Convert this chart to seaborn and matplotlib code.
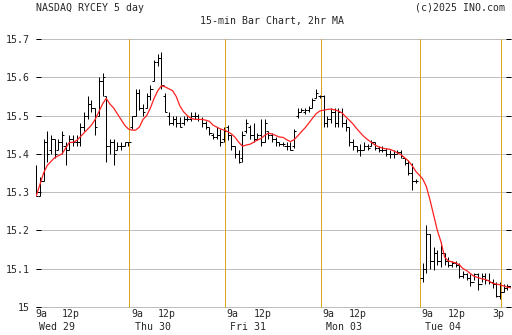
import numpy as np
import pandas as pd
import matplotlib
matplotlib.use("Agg")
import matplotlib.pyplot as plt
import seaborn as sns

# 15-min OHLC bars, 26 per session
days = ["Wed 29", "Thu 30", "Fri 31", "Mon 03", "Tue 04"]
bars_per_day = 26

bar_high = [
    15.37, 15.34, 15.44, 15.46, 15.45, 15.44, 15.44, 15.46, 15.43, 15.45, 15.45, 15.45, 15.48, 15.51, 15.55, 15.54, 15.52, 15.60, 15.61, 15.55, 15.44, 15.44, 15.43, 15.43, 15.43, 15.43,
    15.50, 15.57, 15.57, 15.53, 15.56, 15.58, 15.645, 15.66, 15.665, 15.56, 15.51, 15.50, 15.50, 15.495, 15.50, 15.50, 15.51, 15.51, 15.505, 15.495, 15.485, 15.47, 15.455, 15.47, 15.465, 15.47,
    15.475, 15.45, 15.42, 15.41, 15.46, 15.49, 15.475, 15.48, 15.455, 15.49, 15.49, 15.46, 15.455, 15.445, 15.43, 15.43, 15.43, 15.43, 15.465, 15.52, 15.52, 15.52, 15.525, 15.545, 15.57, 15.555,
    15.554, 15.50, 15.52, 15.52, 15.52, 15.52, 15.49, 15.47, 15.44, 15.42, 15.425, 15.43, 15.425, 15.435, 15.43, 15.42, 15.42, 15.415, 15.41, 15.41, 15.41, 15.41, 15.39, 15.385, 15.375, 15.335,
    15.115, 15.215, 15.19, 15.157, 15.15, 15.17, 15.14, 15.13, 15.12, 15.12, 15.115, 15.095, 15.09, 15.085, 15.09, 15.09, 15.09, 15.09, 15.09, 15.072, 15.066, 15.066, 15.06, 15.06, 15.07, 15.065,
]
bar_low = [
    15.29, 15.29, 15.33, 15.38, 15.40, 15.39, 15.41, 15.40, 15.37, 15.41, 15.42, 15.42, 15.42, 15.46, 15.49, 15.51, 15.45, 15.50, 15.55, 15.38, 15.40, 15.37, 15.41, 15.41, 15.42, 15.42,
    15.465, 15.50, 15.515, 15.50, 15.52, 15.54, 15.59, 15.63, 15.57, 15.51, 15.475, 15.475, 15.47, 15.47, 15.475, 15.485, 15.485, 15.49, 15.485, 15.47, 15.465, 15.45, 15.44, 15.44, 15.42, 15.43,
    15.437, 15.41, 15.39, 15.375, 15.38, 15.455, 15.44, 15.43, 15.435, 15.42, 15.43, 15.44, 15.43, 15.42, 15.42, 15.42, 15.41, 15.41, 15.415, 15.493, 15.51, 15.505, 15.51, 15.52, 15.545, 15.545,
    15.47, 15.47, 15.48, 15.47, 15.47, 15.47, 15.46, 15.42, 15.41, 15.405, 15.395, 15.41, 15.41, 15.42, 15.41, 15.405, 15.405, 15.395, 15.39, 15.39, 15.40, 15.39, 15.37, 15.345, 15.305, 15.325,
    15.065, 15.09, 15.10, 15.097, 15.11, 15.105, 15.11, 15.105, 15.105, 15.105, 15.075, 15.075, 15.07, 15.055, 15.07, 15.045, 15.065, 15.06, 15.06, 15.05, 15.025, 15.02, 15.04, 15.045, 15.05, 15.05,
]
bar_open = [
    15.33, 15.29, 15.33, 15.43, 15.41, 15.44, 15.41, 15.43, 15.42, 15.41, 15.44, 15.43, 15.43, 15.47, 15.50, 15.53, 15.52, 15.50, 15.59, 15.55, 15.42, 15.43, 15.41, 15.42, 15.42, 15.43,
    15.47, 15.50, 15.56, 15.52, 15.52, 15.55, 15.59, 15.64, 15.65, 15.55, 15.50, 15.48, 15.49, 15.48, 15.48, 15.49, 15.49, 15.50, 15.50, 15.49, 15.48, 15.47, 15.45, 15.445, 15.45, 15.44,
    15.47, 15.45, 15.42, 15.40, 15.39, 15.46, 15.47, 15.45, 15.44, 15.45, 15.43, 15.46, 15.45, 15.44, 15.43, 15.425, 15.42, 15.42, 15.42, 15.50, 15.51, 15.51, 15.515, 15.52, 15.545, 15.55,
    15.55, 15.48, 15.49, 15.51, 15.48, 15.51, 15.48, 15.47, 15.43, 15.42, 15.41, 15.41, 15.42, 15.42, 15.43, 15.415, 15.41, 15.41, 15.40, 15.40, 15.40, 15.405, 15.39, 15.375, 15.35, 15.33,
    15.075, 15.10, 15.19, 15.12, 15.14, 15.12, 15.14, 15.12, 15.11, 15.115, 15.11, 15.08, 15.085, 15.075, 15.065, 15.085, 15.06, 15.08, 15.07, 15.065, 15.06, 15.03, 15.04, 15.05, 15.055, 15.06,
]
bar_close = [
    15.29, 15.33, 15.43, 15.40, 15.44, 15.40, 15.43, 15.45, 15.41, 15.44, 15.43, 15.43, 15.47, 15.50, 15.53, 15.52, 15.47, 15.59, 15.60, 15.42, 15.43, 15.40, 15.42, 15.42, 15.43, 15.43,
    15.50, 15.56, 15.52, 15.51, 15.55, 15.57, 15.64, 15.65, 15.58, 15.51, 15.48, 15.49, 15.48, 15.47, 15.49, 15.49, 15.50, 15.50, 15.49, 15.48, 15.47, 15.455, 15.445, 15.45, 15.43, 15.46,
    15.45, 15.42, 15.40, 15.38, 15.45, 15.48, 15.45, 15.44, 15.45, 15.43, 15.48, 15.45, 15.44, 15.43, 15.425, 15.425, 15.42, 15.41, 15.46, 15.51, 15.515, 15.515, 15.52, 15.54, 15.56, 15.55,
    15.48, 15.49, 15.51, 15.48, 15.51, 15.48, 15.47, 15.43, 15.42, 15.41, 15.41, 15.42, 15.415, 15.43, 15.415, 15.41, 15.41, 15.40, 15.40, 15.40, 15.405, 15.395, 15.375, 15.35, 15.33, 15.33,
    15.10, 15.19, 15.12, 15.14, 15.12, 15.14, 15.12, 15.11, 15.115, 15.11, 15.08, 15.085, 15.075, 15.065, 15.085, 15.06, 15.08, 15.07, 15.065, 15.06, 15.03, 15.04, 15.05, 15.055, 15.06, 15.055,
]
# 2hr moving average (red line)
ma_2hr = [
    15.29, 15.32, 15.35, 15.37, 15.38, 15.39, 15.395, 15.40, 15.415, 15.43, 15.43, 15.435, 15.445, 15.455, 15.465, 15.475, 15.49, 15.51, 15.53, 15.545, 15.53, 15.52, 15.505, 15.49, 15.475, 15.465,
    15.462, 15.462, 15.47, 15.49, 15.50, 15.52, 15.545, 15.565, 15.578, 15.575, 15.57, 15.565, 15.55, 15.525, 15.51, 15.50, 15.493, 15.49, 15.49, 15.49, 15.488, 15.485, 15.475, 15.47, 15.465, 15.462,
    15.458, 15.452, 15.443, 15.43, 15.42, 15.423, 15.425, 15.43, 15.436, 15.44, 15.448, 15.454, 15.452, 15.448, 15.444, 15.443, 15.437, 15.432, 15.437, 15.447, 15.458, 15.468, 15.48, 15.493, 15.505, 15.512,
    15.514, 15.516, 15.517, 15.515, 15.512, 15.507, 15.497, 15.488, 15.478, 15.466, 15.455, 15.445, 15.437, 15.43, 15.423, 15.418, 15.415, 15.413, 15.412, 15.408, 15.403, 15.398, 15.39, 15.382, 15.37, 15.355,
    15.335, 15.315, 15.28, 15.24, 15.20, 15.17, 15.13, 15.12, 15.118, 15.115, 15.11, 15.10, 15.095, 15.087, 15.08, 15.077, 15.074, 15.072, 15.068, 15.062, 15.06, 15.058, 15.055, 15.052, 15.05, 15.048,
]
y_ticks = [15.0, 15.1, 15.2, 15.3, 15.4, 15.5, 15.6, 15.7]
y_labels = ["15", "15.1", "15.2", "15.3", "15.4", "15.5", "15.6", "15.7"]

# x layout: bar slot index, session start of each day
day_start = [0, 26, 52, 78, 104.9]
x = np.concatenate([np.arange(bars_per_day) + s for s in day_start])

df = pd.DataFrame({
    "x": x, "open": bar_open, "high": bar_high, "low": bar_low,
    "close": bar_close, "ma": ma_2hr,
})

sns.set_theme(style="white")
plt.rcParams["font.family"] = ["DejaVu Sans Mono"]
plt.rcParams["font.size"] = 7.1

W, H = 512, 335
fig = plt.figure(figsize=(W / 100, H / 100), dpi=100)
fig.patch.set_facecolor("white")
ax = fig.add_axes([35.5 / W, 1 - 307 / H, (511 - 35.5) / W, (307 - 39) / H])
ax.set_xlim(-0.2, 128.9)
ax.set_ylim(15.0, 15.7)
for s in ax.spines.values():
    s.set_visible(False)

px = 0.72  # one pixel in points
gold = "#DAA520"

# horizontal grid
for v in y_ticks:
    ax.axhline(v, color="#bdbdbd", lw=px, zorder=0, clip_on=False)

# session lines + 3p marker
for s in day_start[1:]:
    ax.axvline(s - 0.8, color=gold, lw=px, zorder=1, clip_on=False)
ax.axvline(day_start[4] + 22 - 0.8, color=gold, lw=px, zorder=1, clip_on=False)

# OHLC bars
ax.vlines(df["x"], df["low"], df["high"], color="black", lw=px, zorder=3)
ax.hlines(df["open"], df["x"] - 0.6, df["x"], color="black", lw=px, zorder=3)
ax.hlines(df["close"], df["x"], df["x"] + 0.6, color="black", lw=px, zorder=3)

# moving average
sns.lineplot(data=df, x="x", y="ma", color="#ff2020", lw=0.9, ax=ax, zorder=4)

ax.set_xlabel("")
ax.set_ylabel("")
ax.set_xticks([])
ax.set_yticks(y_ticks)
ax.set_yticklabels(y_labels)
ax.tick_params(axis="y", which="both", direction="in", length=3.5, width=px,
               color="black", left=True, right=True, labelleft=True,
               labelright=False, pad=4.3, labelsize=7.1)

# time and day labels under the axis
tr = ax.get_xaxis_transform()
for d, s in enumerate(day_start):
    ax.text(s - 0.3, -0.026, "9a", transform=tr, ha="left", va="center", fontsize=7.1)
    ax.text(s + 9.4, -0.026, "12p", transform=tr, ha="center", va="center", fontsize=7.1)
    ax.text(s + 5.6, -0.075, days[d], transform=tr, ha="center", va="center", fontsize=7.1)
ax.text(day_start[4] + 20.6, -0.026, "3p", transform=tr, ha="center", va="center", fontsize=7.1)

fig.text(36 / W, 1 - 8 / H, "NASDAQ RYCEY 5 day", ha="left", va="center", fontsize=7.1)
fig.text(505 / W, 1 - 8 / H, "(c)2025 INO.com", ha="right", va="center", fontsize=7.1)
fig.text(272 / W, 1 - 21 / H, "15-min Bar Chart, 2hr MA", ha="center", va="center", fontsize=7.1)

fig.savefig("out.png", dpi=100, facecolor="white")
